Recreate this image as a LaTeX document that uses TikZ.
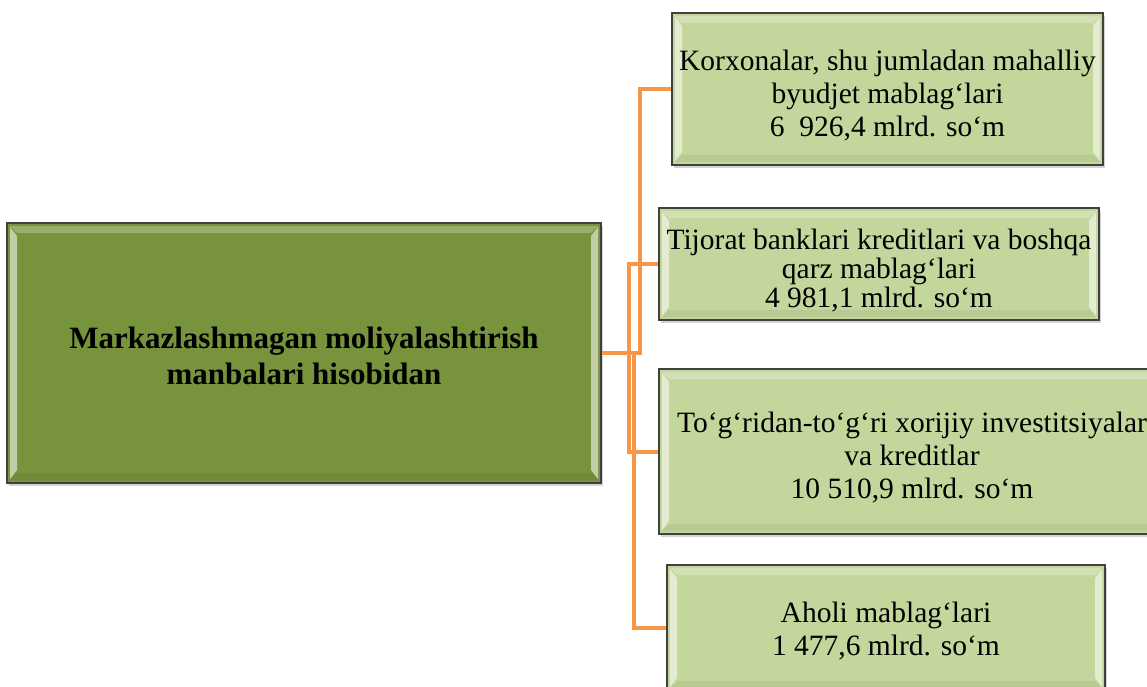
\documentclass[tikz,border=0pt]{standalone}
\usepackage{fontspec}
\setmainfont{Liberation Serif}
\usetikzlibrary{shadows}
\definecolor{darkolive}{HTML}{77933C}
\definecolor{lightolive}{HTML}{C3D69B}
\definecolor{boxborder}{HTML}{404040}
\definecolor{connorange}{HTML}{F79646}
\begin{document}
\begin{tikzpicture}[x=1pt,y=-1pt,
  bevel/.style={path picture={
    \fill[white,opacity=0.55] ([shift={(3pt,-4pt)}]path picture bounding box.north west) -- ([shift={(10pt,-13pt)}]path picture bounding box.north west) -- ([shift={(10pt,13pt)}]path picture bounding box.south west) -- ([shift={(3pt,4pt)}]path picture bounding box.south west) -- cycle;
    \fill[white,opacity=0.55] ([shift={(-3pt,-4pt)}]path picture bounding box.north east) -- ([shift={(-10pt,-13pt)}]path picture bounding box.north east) -- ([shift={(-10pt,13pt)}]path picture bounding box.south east) -- ([shift={(-3pt,4pt)}]path picture bounding box.south east) -- cycle;
    \fill[white,opacity=0.25] ([shift={(3pt,-3pt)}]path picture bounding box.north west) -- ([shift={(-3pt,-3pt)}]path picture bounding box.north east) -- ([shift={(-10pt,-10pt)}]path picture bounding box.north east) -- ([shift={(10pt,-10pt)}]path picture bounding box.north west) -- cycle;
    \fill[black,opacity=0.05] ([shift={(3pt,3pt)}]path picture bounding box.south west) -- ([shift={(-3pt,3pt)}]path picture bounding box.south east) -- ([shift={(-10pt,10pt)}]path picture bounding box.south east) -- ([shift={(10pt,10pt)}]path picture bounding box.south west) -- cycle;
  }},
  boxbase/.style={draw=boxborder,line width=2pt,inner sep=0pt,align=center,bevel,
    drop shadow={shadow xshift=2pt,shadow yshift=-3pt,opacity=0.35}},
  parentbox/.style={boxbase,fill=darkolive,font=\fontsize{31}{36}\selectfont\bfseries},
  childbox/.style={boxbase,fill=lightolive,font=\fontsize{29.5}{33}\selectfont},
  conn/.style={draw=connorange,line width=4pt}]
\useasboundingbox (0,0) rectangle (1147,687);
\clip (0,0) rectangle (1147,687);
\node[parentbox,minimum width=594pt,minimum height=260pt] (P) at (304,353)
  {\rule{0pt}{28pt}Markazlashmagan moliyalashtirish\\manbalari hisobidan};
\node[childbox,minimum width=431pt,minimum height=152pt] (B1) at (887.5,89)
  {\rule{0pt}{33pt}Korxonalar, shu jumladan mahalliy\\byudjet mablag‘lari\\6\ \ 926,4 mlrd. so‘m};
\node[childbox,minimum width=440pt,minimum height=112pt,font=\fontsize{29.5}{29}\selectfont] (B2) at (879,264)
  {\rule{0pt}{34pt}Tijorat banklari kreditlari va boshqa\\qarz mablag‘lari\\4 981,1 mlrd. so‘m};
\node[childbox,minimum width=506pt,minimum height=165pt] (B3) at (912,451.5)
  {\rule{0pt}{33pt}To‘g‘ridan-to‘g‘ri xorijiy investitsiyalar\\va kreditlar\\10 510,9 mlrd. so‘m};
\node[childbox,minimum width=438pt,minimum height=126pt] (B4) at (886,628)
  {\rule{0pt}{26pt}Aholi mablag‘lari\\1 477,6 mlrd. so‘m};
\draw[conn] (P.east) -- ++(38,0) |- (B1.west);
\draw[conn] (P.east) -- ++(27,0) |- (B2.west);
\draw[conn] (P.east) -- ++(27,0) |- (B3.west);
\draw[conn] (P.east) -- ++(32,0) |- (B4.west);
\end{tikzpicture}
\end{document}
